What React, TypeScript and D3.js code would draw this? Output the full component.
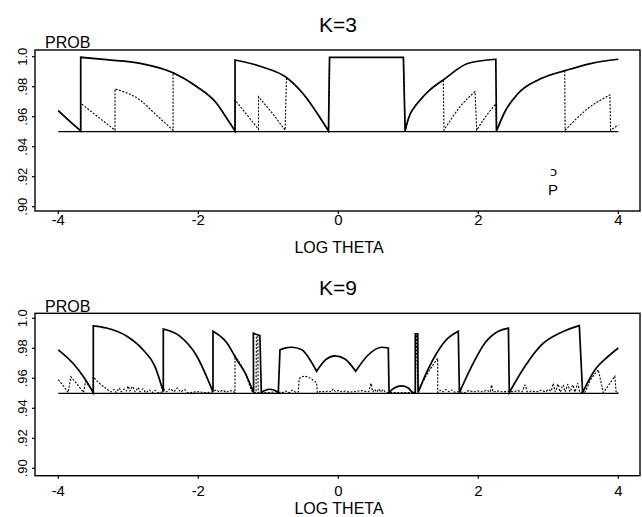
import React from "react";
import * as d3 from "d3";

// axis ticks
const X_TICKS = [-4, -2, 0, 2, 4];
const Y_TICKS = [0.9, 0.92, 0.94, 0.96, 0.98, 1.0];
const Y_TICK_LABELS = [".90", ".92", ".94", ".96", ".98", "1.0"];
const NOMINAL = 0.95;

// K=3, solid curve (each arc is drawn smooth, arcs are joined by straight jumps)
const K3_SOLID = [
  [[-4.0, 0.964], [-3.85, 0.9575], [-3.68, 0.9505]],
  [[-3.68, 0.9996], [-3.31, 0.998], [-2.83, 0.9956], [-2.36, 0.9893], [-2.02, 0.98], [-1.74, 0.969], [-1.594, 0.959], [-1.475, 0.9505]],
  [[-1.475, 0.9978], [-1.095, 0.9933], [-0.737, 0.986], [-0.43, 0.971], [-0.286, 0.9611], [-0.14, 0.9505]],
  [[-0.125, 0.9995], [0.93, 0.9995]],
  [[0.955, 0.9505], [0.99, 0.957], [1.024, 0.9615], [1.09, 0.9665], [1.167, 0.971], [1.3, 0.9775], [1.5, 0.9845], [1.857, 0.9956], [2.25, 0.9983]],
  [[2.26, 0.9505], [2.38, 0.9633], [2.57, 0.9756], [2.906, 0.9856], [3.24, 0.9907], [3.62, 0.9956], [4.0, 0.9983]],
];

// K=3, dotted curve
const K3_DOTTED = [
  [[-4.0, 0.964], [-3.85, 0.9575], [-3.68, 0.9505]],
  [[-3.68, 0.969], [-3.45, 0.9605], [-3.19, 0.951]],
  [[-3.19, 0.9785], [-2.83, 0.971], [-2.6, 0.9611], [-2.36, 0.951]],
  [[-2.36, 0.9893], [-2.02, 0.98], [-1.74, 0.969], [-1.594, 0.959], [-1.475, 0.9505]],
  [[-1.475, 0.971], [-1.3, 0.961], [-1.14, 0.9516]],
  [[-1.14, 0.9733], [-0.95, 0.9627], [-0.76, 0.951]],
  [[-0.74, 0.986], [-0.43, 0.971], [-0.286, 0.9611], [-0.14, 0.9505]],
  [[-0.125, 0.9995], [0.93, 0.9995]],
  [[0.955, 0.9505], [0.99, 0.957], [1.024, 0.9615], [1.09, 0.9665], [1.167, 0.971], [1.3, 0.9775], [1.5, 0.9845]],
  [[1.51, 0.951], [1.74, 0.9667], [1.953, 0.9767]],
  [[1.977, 0.951], [2.12, 0.961], [2.25, 0.9685]],
  [[2.26, 0.9505], [2.38, 0.9633], [2.57, 0.9756], [2.906, 0.9856], [3.235, 0.9906]],
  [[3.24, 0.951], [3.57, 0.9656], [3.88, 0.9745]],
  [[3.89, 0.951], [4.0, 0.9545]],
];

// K=9, solid curve
const K9_SOLID = [
  [[-4.0, 0.979], [-3.79, 0.97], [-3.64, 0.961], [-3.5, 0.9505]],
  [[-3.5, 0.995], [-3.31, 0.9935], [-3.02, 0.988], [-2.79, 0.979], [-2.62, 0.968], [-2.5, 0.951]],
  [[-2.5, 0.9929], [-2.26, 0.988], [-2.02, 0.9747], [-1.88, 0.961], [-1.79, 0.951]],
  [[-1.79, 0.9913], [-1.59, 0.9835], [-1.45, 0.9724], [-1.33, 0.9635], [-1.21, 0.9505]],
  [[-1.214, 0.99], [-1.12, 0.9885]],
  [[-1.1, 0.9505], [-1.04, 0.952], [-0.98, 0.9527], [-0.92, 0.9522], [-0.857, 0.9505]],
  [[-0.833, 0.979], [-0.75, 0.9803], [-0.666, 0.9807], [-0.52, 0.979], [-0.4, 0.972], [-0.31, 0.9647]],
  [[-0.31, 0.9647], [-0.18, 0.9725], [-0.05, 0.975], [0.095, 0.9729], [0.248, 0.9647]],
  [[0.248, 0.9647], [0.43, 0.9757], [0.62, 0.9807], [0.714, 0.9802]],
  [[0.725, 0.9505], [0.8, 0.9535], [0.906, 0.955], [1.0, 0.9535], [1.07, 0.9505], [1.1, 0.9505]],
  [[1.1, 0.9897], [1.135, 0.9897]],
  [[1.14, 0.9505], [1.214, 0.9589], [1.38, 0.9747], [1.524, 0.9847], [1.714, 0.9913]],
  [[1.73, 0.9505], [1.905, 0.968], [2.095, 0.9835], [2.286, 0.9913], [2.43, 0.9935]],
  [[2.443, 0.9505], [2.667, 0.968], [2.906, 0.9824], [3.19, 0.9907], [3.443, 0.9951]],
  [[3.49, 0.9505], [3.667, 0.9657], [3.857, 0.9747], [4.0, 0.9802]],
];

// K=9, dotted curve (lots of small jitter just above .95)
const K9_DOTTED = [
  [[-4.0, 0.959], [-3.93, 0.955], [-3.86, 0.9505]],
  [[-3.82, 0.961], [-3.73, 0.956], [-3.64, 0.9505]],
  [[-3.61, 0.958], [-3.55, 0.954], [-3.5, 0.9505]],
  [[-3.5, 0.961], [-3.42, 0.957], [-3.31, 0.953], [-3.25, 0.951], [-3.2, 0.9525], [-3.17, 0.9505], [-3.13, 0.9535],
    [-3.1, 0.951], [-3.06, 0.9528], [-3.03, 0.9515], [-3.0, 0.9548], [-2.98, 0.9515], [-2.94, 0.9545], [-2.9, 0.951],
    [-2.86, 0.9538], [-2.83, 0.951], [-2.79, 0.953], [-2.75, 0.9505], [-2.7, 0.9522], [-2.66, 0.9505], [-2.62, 0.952],
    [-2.57, 0.9505], [-2.5, 0.951]],
  [[-2.5, 0.9535], [-2.45, 0.951], [-2.4, 0.953], [-2.35, 0.9512], [-2.3, 0.9535], [-2.25, 0.951], [-2.2, 0.9525],
    [-2.15, 0.9505], [-2.0, 0.951], [-1.9, 0.9505], [-1.79, 0.951], [-1.74, 0.9522], [-1.7, 0.951], [-1.65, 0.952],
    [-1.6, 0.9507], [-1.55, 0.9518], [-1.476, 0.9505]],
  [[-1.476, 0.975], [-1.33, 0.9635], [-1.21, 0.9505], [-1.175, 0.9505]],
  [[-1.17, 0.988], [-1.15, 0.988]],
  [[-1.145, 0.9505], [-1.0, 0.9505], [-0.9, 0.951], [-0.8, 0.9505], [-0.75, 0.9515], [-0.7, 0.9505], [-0.65, 0.952],
    [-0.6, 0.9505], [-0.57, 0.951]],
  [[-0.56, 0.9595], [-0.51, 0.9612], [-0.476, 0.9613], [-0.42, 0.9605], [-0.38, 0.9594], [-0.34, 0.958], [-0.31, 0.957]],
  [[-0.3, 0.9505], [-0.25, 0.9512], [-0.2, 0.951], [-0.15, 0.9515], [-0.1, 0.9512], [-0.07, 0.953], [-0.04, 0.9512],
    [0.0, 0.9518], [0.05, 0.951], [0.1, 0.9515], [0.15, 0.9508], [0.2, 0.951], [0.26, 0.9512], [0.32, 0.9518],
    [0.38, 0.9514], [0.43, 0.951], [0.47, 0.9565], [0.49, 0.951], [0.52, 0.9525], [0.55, 0.951], [0.58, 0.9528],
    [0.61, 0.951], [0.64, 0.9525], [0.67, 0.951], [0.72, 0.9505], [1.1, 0.9505]],
  [[1.115, 0.989], [1.12, 0.989]],
  [[1.14, 0.9505], [1.214, 0.958], [1.42, 0.9733]],
  [[1.42, 0.9505], [1.47, 0.952], [1.5, 0.951], [1.54, 0.9525], [1.58, 0.951], [1.62, 0.9522], [1.66, 0.9508],
    [1.73, 0.951], [1.8, 0.9505], [1.87, 0.9518], [1.93, 0.951], [2.0, 0.9515], [2.06, 0.951], [2.12, 0.952],
    [2.17, 0.951], [2.19, 0.9555], [2.21, 0.951], [2.28, 0.9515], [2.35, 0.951], [2.43, 0.9512], [2.5, 0.951],
    [2.56, 0.9518], [2.62, 0.951], [2.67, 0.9555], [2.7, 0.951], [2.76, 0.9515], [2.83, 0.951], [2.9, 0.952],
    [2.96, 0.951], [3.0, 0.9525], [3.04, 0.9515], [3.07, 0.9565], [3.1, 0.951], [3.14, 0.956], [3.17, 0.951],
    [3.21, 0.9555], [3.24, 0.951], [3.28, 0.956], [3.31, 0.951], [3.35, 0.9555], [3.38, 0.951], [3.42, 0.9565],
    [3.45, 0.951], [3.51, 0.9505], [3.6, 0.9585], [3.714, 0.9657]],
  [[3.786, 0.9505], [3.87, 0.956], [3.95, 0.9613]],
  [[3.97, 0.9505], [4.0, 0.9505]],
];

const FONT = "'Liberation Sans', Arial, Helvetica, sans-serif";

// join smooth arcs into one path, jumps between arcs are straight
function arcsPath(arcs, x, y) {
  const gen = d3.line().x(d => x(d[0])).y(d => y(d[1])).curve(d3.curveMonotoneX);
  return arcs
    .map((a, i) => {
      const s = (gen(a) || "").replace(/Z$/, "");
      return i === 0 ? s : "L" + s.slice(1);
    })
    .join("");
}

function Panel({ title, solid, dotted, lay, mark }) {
  const x = d3.scaleLinear().domain([-4, 4]).range([58.3, 618.3]);
  const y = d3.scaleLinear().domain([0.9, 1.0]).range([lay.y90, lay.y100]);
  const left = 35, right = 640;

  return (
    <g>
      <text x={338} y={lay.titleY} fontSize={21} textAnchor="middle" fontFamily={FONT}>{title}</text>
      <text x={45} y={lay.probY} fontSize={16} fontFamily={FONT}>PROB</text>
      <rect x={left} y={lay.top} width={right - left} height={lay.bottom - lay.top}
        fill="none" stroke="#000" strokeWidth={1.4} />

      {Y_TICKS.map((t, i) => (
        <g key={"y" + t}>
          <line x1={left - 3} x2={left} y1={y(t)} y2={y(t)} stroke="#000" strokeWidth={1.2} />
          <text transform={`translate(27,${y(t)}) rotate(-90)`} fontSize={13} textAnchor="middle" fontFamily={FONT}>
            {Y_TICK_LABELS[i]}
          </text>
        </g>
      ))}
      {X_TICKS.map(t => (
        <g key={"x" + t}>
          <line x1={x(t)} x2={x(t)} y1={lay.bottom} y2={lay.bottom + 3} stroke="#000" strokeWidth={1.2} />
          <text x={x(t)} y={lay.tickY} fontSize={15} textAnchor="middle" fontFamily={FONT}>{t}</text>
        </g>
      ))}
      <text x={339} y={lay.axisY} fontSize={16} textAnchor="middle" fontFamily={FONT}>LOG THETA</text>

      <line x1={x(-4)} x2={x(4)} y1={y(NOMINAL)} y2={y(NOMINAL)} stroke="#000" strokeWidth={1.3} />
      <path d={arcsPath(dotted, x, y)} fill="none" stroke="#000" strokeWidth={1.1} strokeDasharray="2 1.5" />
      <path d={arcsPath(solid, x, y)} fill="none" stroke="#000" strokeWidth={1.7} strokeLinejoin="miter" />

      {mark && (
        <g fontFamily={FONT} textAnchor="middle">
          <text x={553.5} y={176} fontSize={13} fontFamily="'DejaVu Sans', sans-serif">ɔ</text>
          <text x={553} y={195} fontSize={15}>P</text>
        </g>
      )}
    </g>
  );
}

const TOP = { top: 50, bottom: 211, y90: 206.7, y100: 56.7, titleY: 31.7, probY: 48.3, tickY: 224.5, axisY: 252.5 };
const BOTTOM = { top: 313.3, bottom: 475.7, y90: 468.3, y100: 318.3, titleY: 295, probY: 311.5, tickY: 495.5, axisY: 513.5 };

export default function App() {
  return (
    <svg width={642} height={517} style={{ position: "absolute", left: 0, top: 0, background: "#fff" }}>
      <Panel title="K=3" solid={K3_SOLID} dotted={K3_DOTTED} lay={TOP} mark />
      <Panel title="K=9" solid={K9_SOLID} dotted={K9_DOTTED} lay={BOTTOM} mark={false} />
    </svg>
  );
}
